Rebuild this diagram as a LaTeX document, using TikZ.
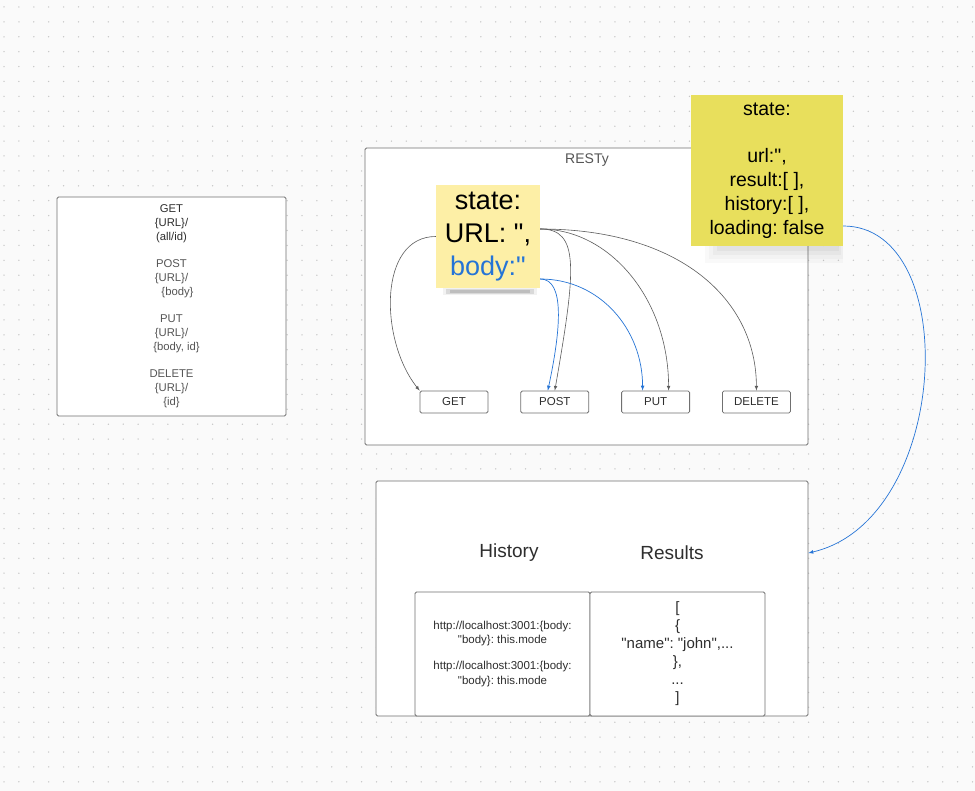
\documentclass[tikz,border=0pt]{standalone}
\usepackage{fontspec}
\setmainfont{Liberation Sans}
\newfontfamily\lucidfont{Liberation Sans}
\usetikzlibrary{arrows,positioning}
\frenchspacing

\definecolor{paper}{HTML}{FAFAFA}
\definecolor{griddot}{HTML}{C6C6C6}
\definecolor{frame}{HTML}{707070}
\definecolor{ink}{HTML}{2E2E2E}
\definecolor{softink}{HTML}{555555}
\definecolor{paleyellow}{HTML}{FDEFA6}
\definecolor{stickyyellow}{HTML}{E8DF5C}
\definecolor{linkblue}{HTML}{2574D6}
\definecolor{wire}{HTML}{5C5C5C}

\tikzset{
	panel/.style={draw=frame,fill=white,rounded corners=1.5pt,line width=0.8pt,inner sep=0pt},
	methodbtn/.style={panel,minimum width=68pt,minimum height=22pt,text=ink,
		font=\fontsize{11.5}{13}\selectfont},
	sticky/.style={inner sep=0pt,align=center,text=black},
	stickyshadow/.style={fill=black,opacity=#1},
	graywire/.style={draw=wire,line width=0.6pt,->},
	bluewire/.style={draw=linkblue,line width=0.7pt,->}
}

\begin{document}
\lucidfont
\begin{tikzpicture}[>=latex,x=1pt,y=-1pt]

\useasboundingbox (0,0) rectangle (975,791);
\fill[paper] (0,0) rectangle (975,791);

% dotted canvas
\foreach \i in {0,...,65}
	\foreach \j in {0,...,52}
		\fill[griddot] ({4+14.9*\i},{7+14.9*\j}) circle[radius=0.75pt];

% request forms
\node[panel,minimum width=229pt,minimum height=219pt,align=center,text=softink,
	font=\fontsize{11.3}{14}\selectfont] (methods) at (171.5,306.5)
	{\textcolor{ink}{GET}\\ \textcolor{ink}{\{URL\}/}\\ \textcolor{ink}{(all/id)}\\[13pt]
	 POST\\ \{URL\}/\\ \hspace{12pt}\{body\}\\[13pt]
	 PUT\\ \{URL\}/\\ \hspace{10pt}\{body, id\}\\[13pt]
	 DELETE\\ \{URL\}/\\ \{id\}};

% RESTy app
\node[panel,minimum width=443pt,minimum height=297pt] (resty) at (586.5,296.5) {};
\node[text=softink,font=\fontsize{14}{16}\selectfont] (restytitle) at (587,160) {RESTy};

\node[methodbtn] (get) at (454,402) {GET};
\node[methodbtn,right=32pt of get] (post) {POST};
\node[methodbtn,right=32pt of post] (put) {PUT};
\node[methodbtn,right=32pt of put] (delete) {DELETE};

\node[sticky,fill=paleyellow,minimum width=104pt,minimum height=103pt,
	font=\fontsize{27}{33}\selectfont] (statenote) at (488,236.5)
	{state:\\ URL: ",\\ \textcolor{linkblue}{body:"}};
\fill[stickyshadow=0.05] ([xshift=7pt]statenote.south west) rectangle ([xshift=-3pt,yshift=-7pt]statenote.south east);
\fill[stickyshadow=0.10] ([xshift=10pt,yshift=-1pt]statenote.south west) rectangle ([xshift=-6pt,yshift=-6pt]statenote.south east);
\fill[stickyshadow=0.12] ([xshift=14pt,yshift=-2pt]statenote.south west) rectangle ([xshift=-10pt,yshift=-5pt]statenote.south east);

\draw[graywire] (statenote.west) .. controls +(-58,0) and +(-40,-50) .. (get.north west);
\draw[graywire] ([yshift=7.5pt]statenote.east) .. controls +(40,0) and +(21,-121) .. (post.north);
\draw[graywire] ([yshift=7.5pt]statenote.east) .. controls +(70,0) and +(0,-91) .. ([xshift=13pt]put.north);
\draw[graywire] ([yshift=7.5pt]statenote.east) .. controls +(140,0) and +(0,-91) .. (delete.north);
\draw[bluewire] ([yshift=-42.5pt]statenote.east) .. controls +(25,0) and +(13,-61) .. ([xshift=-7pt]post.north);
\draw[bluewire] ([yshift=-42.5pt]statenote.east) .. controls +(60,0) and +(0,-61) .. ([xshift=-13pt]put.north);

% app state
\node[sticky,fill=stickyyellow,minimum width=152pt,minimum height=151pt,
	font=\fontsize{19.5}{23.8}\selectfont] (appstate) at (767,170.5)
	{state:\\[23.8pt] url:",\\ result:[ ],\\ history:[ ],\\ loading: false};
\fill[stickyshadow=0.025] ([xshift=14pt]appstate.south west) rectangle ([yshift=-17pt]appstate.south east);
\fill[stickyshadow=0.025] ([xshift=18pt]appstate.south west) rectangle ([yshift=-13pt]appstate.south east);
\fill[stickyshadow=0.03] ([xshift=22pt]appstate.south west) rectangle ([xshift=-2pt,yshift=-9pt]appstate.south east);
\fill[stickyshadow=0.035] ([xshift=26pt]appstate.south west) rectangle ([xshift=-4pt,yshift=-5pt]appstate.south east);

% history and results
\node[panel,minimum width=432pt,minimum height=235pt] (display) at (592,598.5) {};
\node[text=ink,font=\fontsize{19}{22}\selectfont] (historytitle) at (509,553) {History};
\node[text=ink,font=\fontsize{19}{22}\selectfont] (resultstitle) at (672,553) {Results};

\node[panel,minimum width=175pt,minimum height=124pt,align=center,text=ink,
	font=\fontsize{11.5}{14.5}\selectfont] (history) at (502.5,654)
	{http://localhost:3001:\{body:\\ "body\}: this.mode\\[11.5pt]
	 http://localhost:3001:\{body:\\ "body\}: this.mode};
\node[panel,minimum width=175pt,minimum height=124pt,align=center,text=ink,
	font=\fontsize{15}{18}\selectfont] (results) at (677.5,654)
	{[\\ \{\\ "name": "john",...\\ \},\\ ...\\ ]};

\draw[bluewire] ([yshift=-55.5pt]appstate.east) .. controls +(120,0) and +(142,-33) .. ([yshift=45.5pt]display.east);

\end{tikzpicture}
\end{document}
